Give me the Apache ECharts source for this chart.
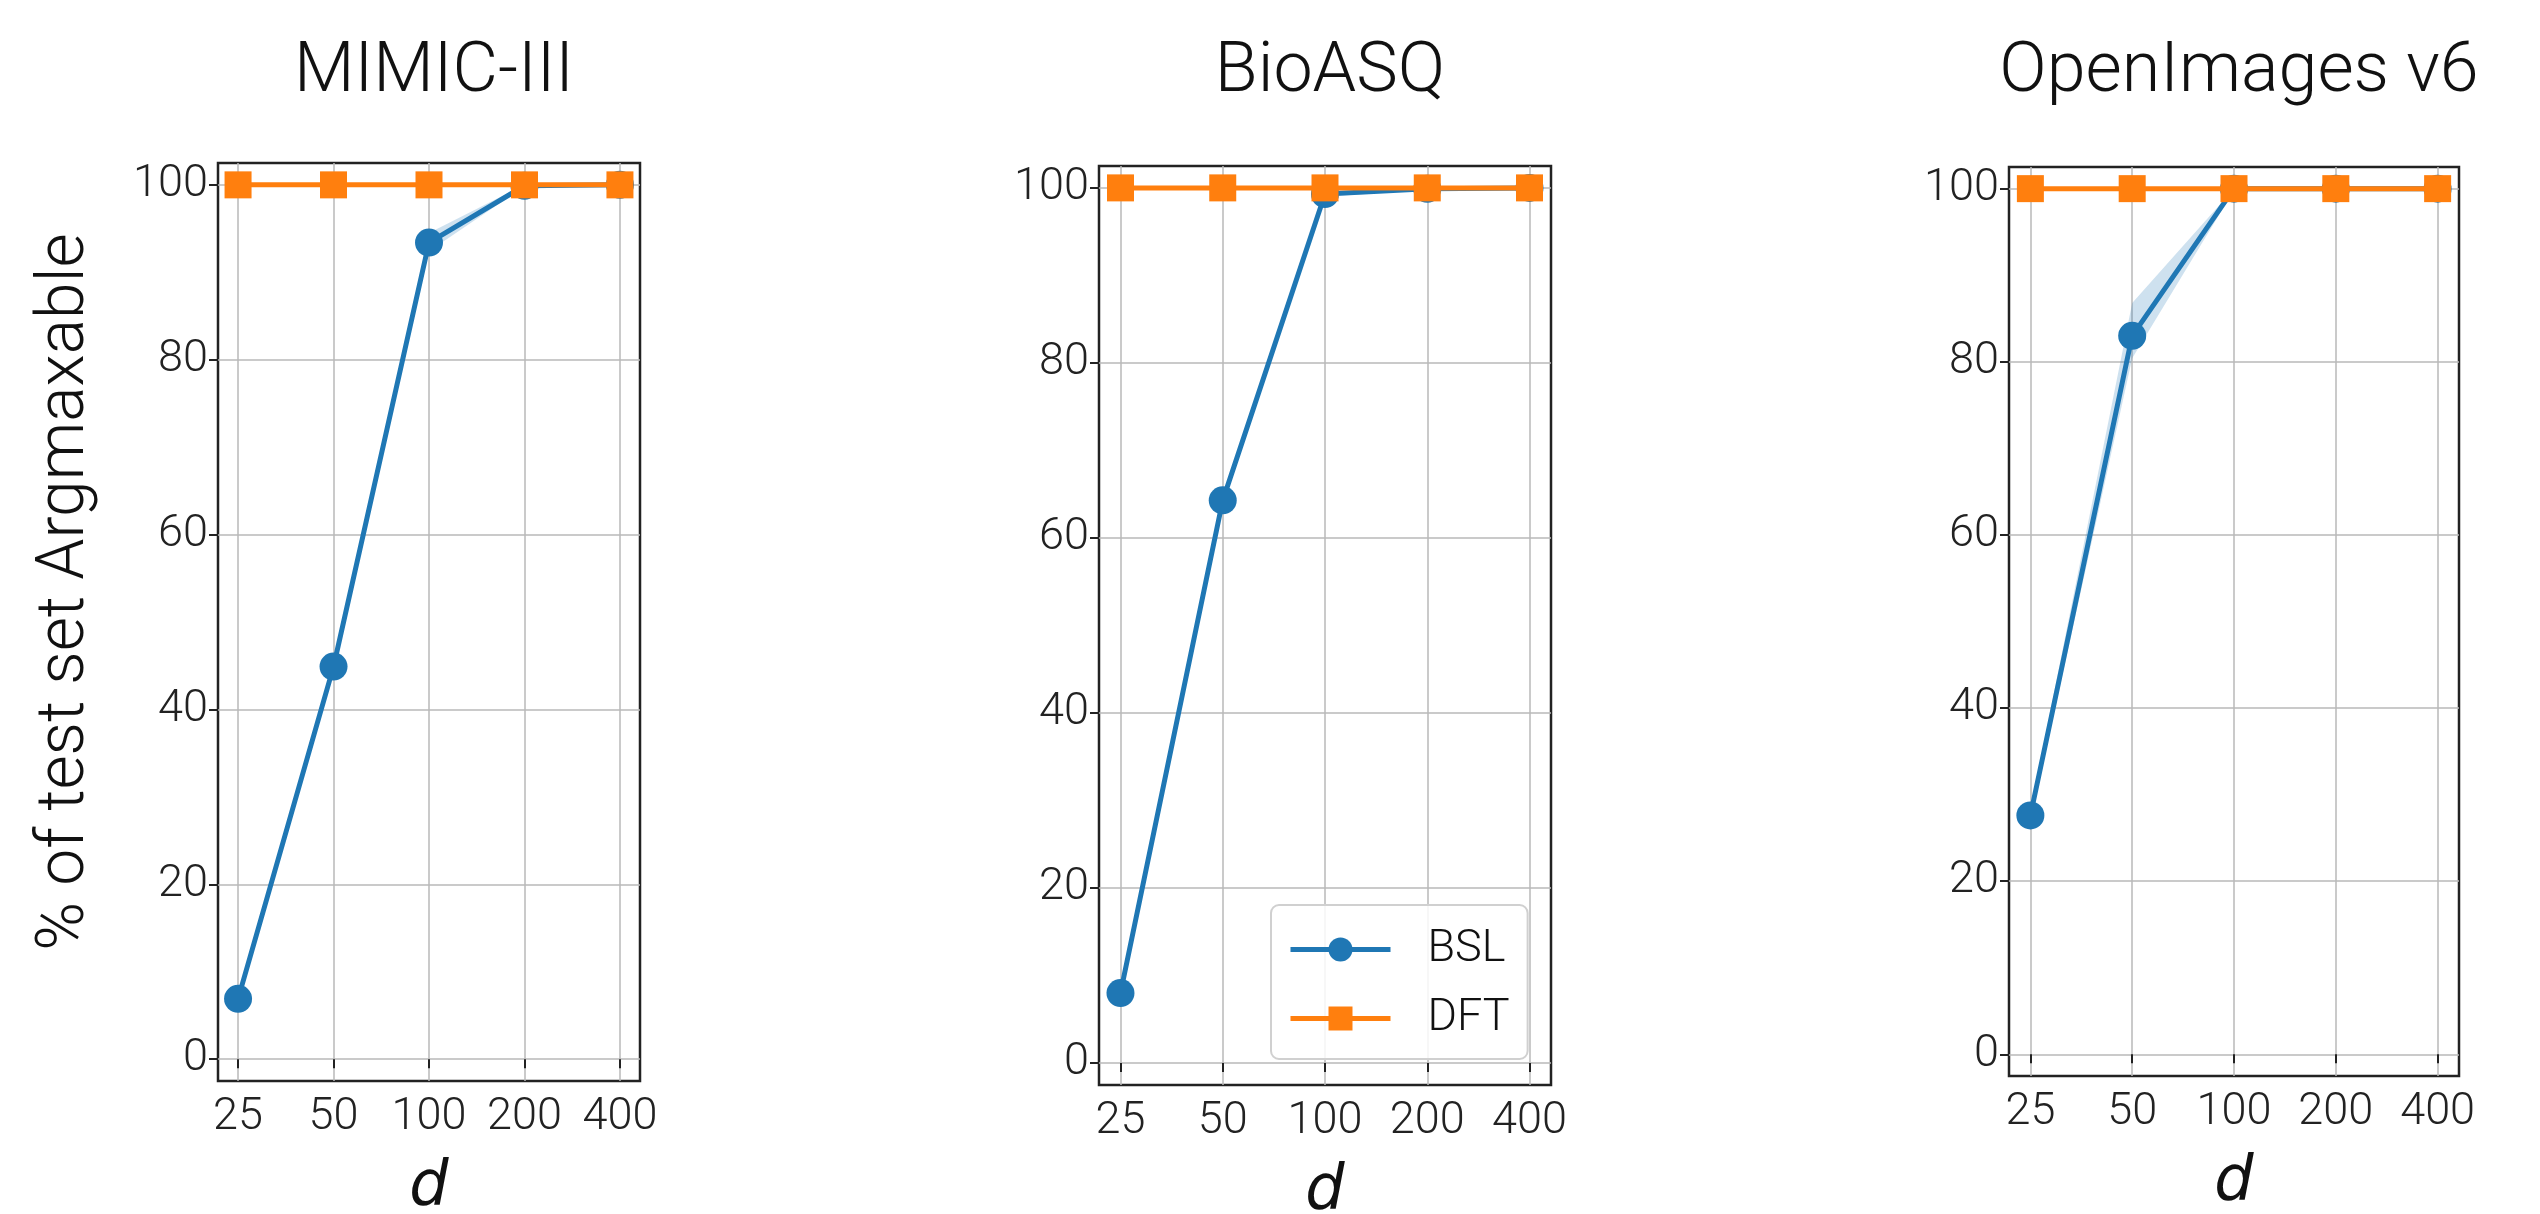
<!DOCTYPE html>
<html>
<head>
<meta charset="utf-8">
<script src="https://cdn.jsdelivr.net/npm/echarts@6/dist/echarts.min.js"></script>
<style>
  html, body { margin: 0; padding: 0; background: #fff; }
  #chart { width: 2540px; height: 1214px; }
</style>
</head>
<body>
<div id="chart"></div>
<script>
// x values (d) and y ticks
const dims = [25, 50, 100, 200, 400];
const yTicks = [0, 20, 40, 60, 80, 100];
const titles = ['MIMIC-III', 'BioASQ', 'OpenImages v6'];

// BSL mean + shaded band, DFT line, per dataset
const mimicBsl = [6.9, 44.9, 93.4, 99.9, 100];
const mimicLo = [6.6, 44.4, 92.4, 99.8, 100];
const mimicHi = [7.2, 45.4, 94.5, 100, 100];
const mimicDft = [100, 100, 100, 100, 100];

const bioBsl = [8.0, 64.3, 99.3, 99.9, 100];
const bioLo = [7.7, 63.8, 99.0, 99.8, 100];
const bioHi = [8.3, 64.8, 99.6, 100, 100];
const bioDft = [100, 100, 100, 100, 100];

const openBsl = [27.6, 83.0, 100, 100, 100];
const openLo = [27.0, 80.4, 99.8, 100, 100];
const openHi = [28.2, 86.8, 100, 100, 100];
const openDft = [100, 100, 100, 100, 100];

const blue = '#1f77b4';
const orange = '#ff7f0e';
const font = 'Roboto';

// plot boxes (pixels)
const boxes = [
    { left: 218, top: 163, width: 422, height: 918 },
    { left: 1099, top: 166, width: 452, height: 919 },
    { left: 2009, top: 167, width: 450, height: 909 }
];
const panels = [
    { bsl: mimicBsl, lo: mimicLo, hi: mimicHi, dft: mimicDft },
    { bsl: bioBsl, lo: bioLo, hi: bioHi, dft: bioDft },
    { bsl: openBsl, lo: openLo, hi: openHi, dft: openDft }
];

const pad = Math.pow(2, 0.21);
const chart = echarts.init(document.getElementById('chart'));

const grid = [], xAxis = [], yAxis = [], series = [], title = [];
boxes.forEach((b, i) => {
    grid.push({
        left: b.left, top: b.top, width: b.width, height: b.height,
        show: true, borderColor: '#222', borderWidth: 2.5,
        backgroundColor: 'transparent', outerBoundsMode: 'none'
    });
    title.push({
        text: titles[i],
        left: b.left + b.width / 2,
        top: 33,
        textAlign: 'center',
        textStyle: { fontFamily: font, fontWeight: 300, fontSize: 70, color: '#111' }
    });
    xAxis.push({
        type: 'log', logBase: 2, gridIndex: i,
        min: dims[0] / pad, max: dims[dims.length - 1] * pad,
        name: 'd', nameLocation: 'middle', nameGap: 76,
        nameTextStyle: { fontFamily: 'DejaVu Sans', fontStyle: 'italic', fontSize: 62, color: '#111' },
        axisLine: { show: false },
        axisTick: { show: true, length: 9, lineStyle: { color: '#222', width: 2 }, customValues: dims },
        axisLabel: { customValues: dims, margin: 14, fontFamily: font, fontWeight: 300, fontSize: 45, color: '#222',
            formatter: v => String(Math.round(v)) },
        splitLine: { show: true, lineStyle: { color: '#b8b8b8', width: 1.5 } },
        minorTick: { show: false }, minorSplitLine: { show: false }
    });
    yAxis.push({
        type: 'value', gridIndex: i, min: -2.5, max: 102.5,
        axisLine: { show: false },
        axisTick: { show: true, length: 9, lineStyle: { color: '#222', width: 2 }, customValues: yTicks },
        axisLabel: { customValues: yTicks, margin: 10, fontFamily: font, fontWeight: 300, fontSize: 45, color: '#222' },
        splitLine: { show: true, lineStyle: { color: '#b8b8b8', width: 1.5 } }
    });

    const p = panels[i];
    // shaded band between lo and hi
    series.push({
        name: 'band' + i, type: 'custom', xAxisIndex: i, yAxisIndex: i,
        data: dims.map((d, k) => [d, p.lo[k], p.hi[k]]),
        renderItem: (params, api) => {
            if (params.dataIndex !== 0) return null;
            const pts = [];
            for (let k = 0; k < dims.length; k++) pts.push(api.coord([dims[k], p.hi[k]]));
            for (let k = dims.length - 1; k >= 0; k--) pts.push(api.coord([dims[k], p.lo[k]]));
            return { type: 'polygon', shape: { points: pts }, style: { fill: 'rgba(31,119,180,0.22)' } };
        },
        silent: true, z: 1
    });
    series.push({
        name: 'BSL', type: 'line', xAxisIndex: i, yAxisIndex: i,
        data: dims.map((d, k) => [d, p.bsl[k]]),
        symbol: 'circle', symbolSize: 28, showAllSymbol: true,
        lineStyle: { color: blue, width: 5 }, itemStyle: { color: blue },
        z: 3
    });
    series.push({
        name: 'DFT', type: 'line', xAxisIndex: i, yAxisIndex: i,
        data: dims.map((d, k) => [d, p.dft[k]]),
        symbol: 'rect', symbolSize: 27, showAllSymbol: true,
        lineStyle: { color: orange, width: 5 }, itemStyle: { color: orange },
        z: 4
    });
});

const option = {
    backgroundColor: '#fff',
    animation: false,
    title: title,
    grid: grid,
    xAxis: xAxis,
    yAxis: yAxis,
    graphic: [{
        type: 'text', x: 66, y: 592, rotation: Math.PI / 2,
        style: {
            text: '% of test set Argmaxable', align: 'center', verticalAlign: 'middle',
            fontFamily: font, fontWeight: 300, fontSize: 66, fill: '#111'
        }
    }],
    legend: {
        data: ['BSL', 'DFT'],
        orient: 'vertical',
        left: 1271, top: 905,
        itemWidth: 100, itemHeight: 30, itemGap: 24,
        padding: [22, 18, 18, 17],
        backgroundColor: 'rgba(255,255,255,0.85)',
        borderColor: '#d0d0d0', borderWidth: 2, borderRadius: 8,
        lineStyle: { width: 5 },
        textStyle: { fontFamily: font, fontWeight: 300, fontSize: 45, lineHeight: 44, color: '#111', padding: [0, 0, 0, 32] }
    },
    series: series
};

chart.setOption(option);
</script>
</body>
</html>
